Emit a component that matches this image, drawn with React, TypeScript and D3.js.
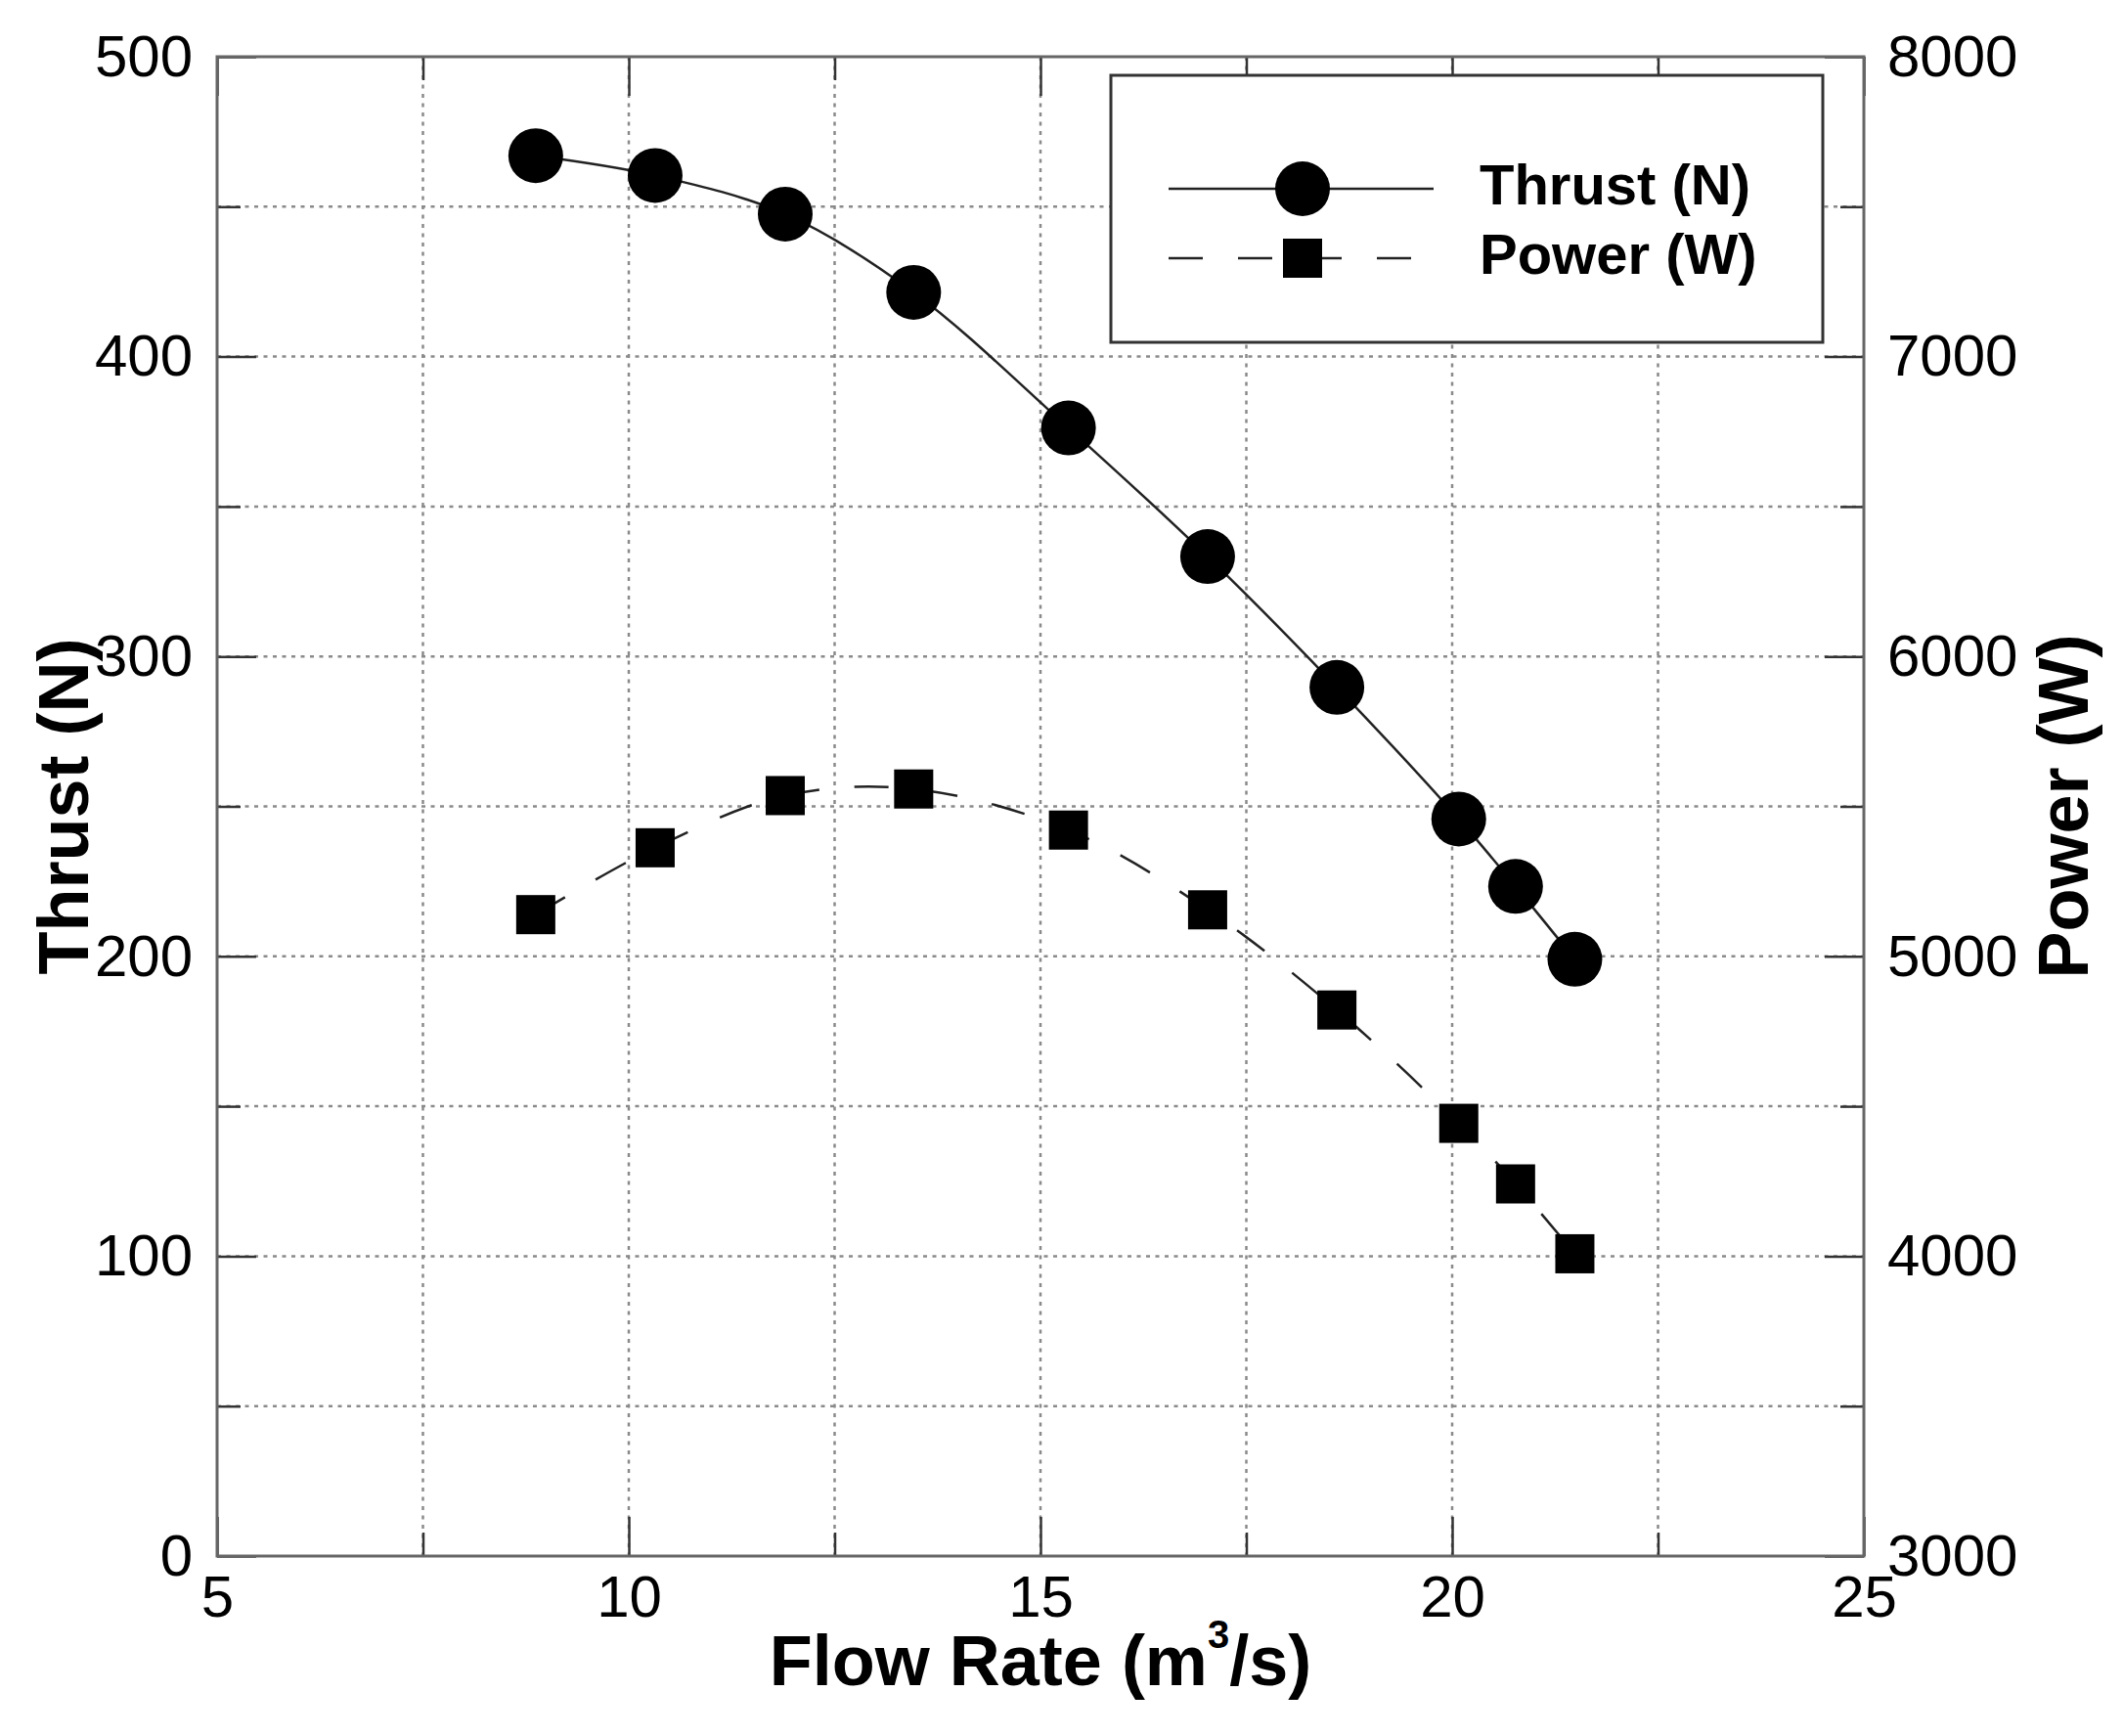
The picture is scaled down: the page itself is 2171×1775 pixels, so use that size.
import * as d3 from 'd3';
import { useEffect, useRef } from 'react';

// Flow rate (m^3/s) for each measurement
const flowRate = [8.87, 10.32, 11.9, 13.46, 15.34, 17.03, 18.6, 20.08, 20.77, 21.49];
// Thrust (N), left axis
const thrust = [467, 460.4, 447.5, 421.4, 376.2, 333.3, 289.7, 245.8, 223.3, 199];
// Power (W), right axis
const power = [5139, 5362, 5536, 5558, 5421, 5155, 4821, 4443, 4241, 4008];

const xMajor = [5, 10, 15, 20, 25];
const xMinor = [7.5, 12.5, 17.5, 22.5];
const yLeftMajor = [0, 100, 200, 300, 400, 500];
const yLeftMinor = [50, 150, 250, 350, 450];
const yRightMajor = [3000, 4000, 5000, 6000, 7000, 8000];
const yRightMinor = [3500, 4500, 5500, 6500, 7500];

const legendItems = ['Thrust (N)', 'Power (W)'];

const W = 2171;
const H = 1775;
const margin = { top: 58, right: W - 1906, bottom: H - 1591, left: 222 };
const FONT = '"Liberation Sans", Arial, Helvetica, sans-serif';

export default function App() {
  const axesRef = useRef<SVGGElement>(null);

  const x = d3.scaleLinear().domain([5, 25]).range([margin.left, W - margin.right]);
  const yL = d3.scaleLinear().domain([0, 500]).range([H - margin.bottom, margin.top]);
  const yR = d3.scaleLinear().domain([3000, 8000]).range([H - margin.bottom, margin.top]);

  const thrustPts = flowRate.map((f, i) => [x(f), yL(thrust[i])] as [number, number]);
  const powerPts = flowRate.map((f, i) => [x(f), yR(power[i])] as [number, number]);
  const line = d3.line().curve(d3.curveCatmullRom.alpha(0.5));

  useEffect(() => {
    const g = d3.select(axesRef.current);
    g.selectAll('*').remove();
    const bottom = H - margin.bottom;
    const right = W - margin.right;

    const add = (axis: any, tx: number, ty: number) =>
      g.append('g').attr('transform', `translate(${tx},${ty})`).call(axis);

    // major ticks with labels
    add(d3.axisBottom(x).tickValues(xMajor).tickSize(-40).tickPadding(19).tickFormat(d3.format('d')), 0, bottom);
    add(d3.axisLeft(yL).tickValues(yLeftMajor).tickSize(-40).tickPadding(25).tickFormat(d3.format('d')), margin.left, 0);
    add(d3.axisRight(yR).tickValues(yRightMajor).tickSize(-40).tickPadding(24).tickFormat(d3.format('d')), right, 0);
    add(d3.axisTop(x).tickValues(xMajor).tickSize(-40).tickFormat(() => ''), 0, margin.top);
    // minor ticks
    add(d3.axisBottom(x).tickValues(xMinor).tickSize(-24).tickFormat(() => ''), 0, bottom);
    add(d3.axisTop(x).tickValues(xMinor).tickSize(-24).tickFormat(() => ''), 0, margin.top);
    add(d3.axisLeft(yL).tickValues(yLeftMinor).tickSize(-24).tickFormat(() => ''), margin.left, 0);
    add(d3.axisRight(yR).tickValues(yRightMinor).tickSize(-24).tickFormat(() => ''), right, 0);

    g.selectAll('.domain').remove();
    g.selectAll('.tick line').attr('stroke', '#333').attr('stroke-width', 2.5);
    g.selectAll('.tick text')
      .attr('fill', '#000')
      .style('font-family', FONT)
      .style('font-size', '60px');
  }, []);

  const gridX = [...xMajor, ...xMinor].filter((v) => v > 5 && v < 25);
  const gridY = [...yLeftMajor, ...yLeftMinor].filter((v) => v > 0 && v < 500);

  return (
    <div style={{ position: 'absolute', left: 0, top: 0 }}>
      <svg width={W} height={H} style={{ display: 'block', background: '#fff' }}>
        {/* grid */}
        <g stroke="#8a8a8a" strokeWidth={2.5} strokeDasharray="4 5.5">
          {gridX.map((v) => (
            <line key={'gx' + v} x1={x(v)} x2={x(v)} y1={margin.top} y2={H - margin.bottom} />
          ))}
          {gridY.map((v) => (
            <line key={'gy' + v} x1={margin.left} x2={W - margin.right} y1={yL(v)} y2={yL(v)} />
          ))}
        </g>

        <g ref={axesRef} />

        <rect
          x={margin.left}
          y={margin.top}
          width={W - margin.left - margin.right}
          height={H - margin.top - margin.bottom}
          fill="none"
          stroke="#666"
          strokeWidth={3}
        />

        {/* legend */}
        <rect x={1136} y={77} width={728} height={273} fill="#fff" stroke="#333" strokeWidth={3} />
        <line x1={1195} x2={1466} y1={193} y2={193} stroke="#222" strokeWidth={2.5} />
        <circle cx={1332} cy={193} r={28} fill="#000" />
        <line x1={1195} x2={1443} y1={264} y2={264} stroke="#222" strokeWidth={2.5} strokeDasharray="35 36" />
        <rect x={1312} y={244} width={40} height={40} fill="#000" />
        <g fontFamily={FONT} fontWeight="bold" fontSize={58} fill="#000">
          <text x={1513} y={209}>{legendItems[0]}</text>
          <text x={1513} y={280}>{legendItems[1]}</text>
        </g>

        {/* series */}
        <path d={line(thrustPts) ?? ''} fill="none" stroke="#222" strokeWidth={2.5} />
        <path d={line(powerPts) ?? ''} fill="none" stroke="#222" strokeWidth={2.5} strokeDasharray="35 36" />
        {thrustPts.map(([cx, cy], i) => (
          <circle key={'t' + i} cx={cx} cy={cy} r={28} fill="#000" />
        ))}
        {powerPts.map(([cx, cy], i) => (
          <rect key={'p' + i} x={cx - 20} y={cy - 20} width={40} height={40} fill="#000" />
        ))}

        {/* axis titles */}
        <g fontFamily={FONT} fontWeight="bold" fontSize={72} fill="#000" textAnchor="middle">
          <text transform={`translate(90,${(margin.top + H - margin.bottom) / 2}) rotate(-90)`}>Thrust (N)</text>
          <text transform={`translate(2135,${(margin.top + H - margin.bottom) / 2}) rotate(-90)`}>Power (W)</text>
          <text x={(margin.left + W - margin.right) / 2} y={1723}>
            Flow Rate (m<tspan fontSize={40} dy={-38}>3</tspan>
            <tspan dy={38}>/s)</tspan>
          </text>
        </g>
      </svg>
    </div>
  );
}
